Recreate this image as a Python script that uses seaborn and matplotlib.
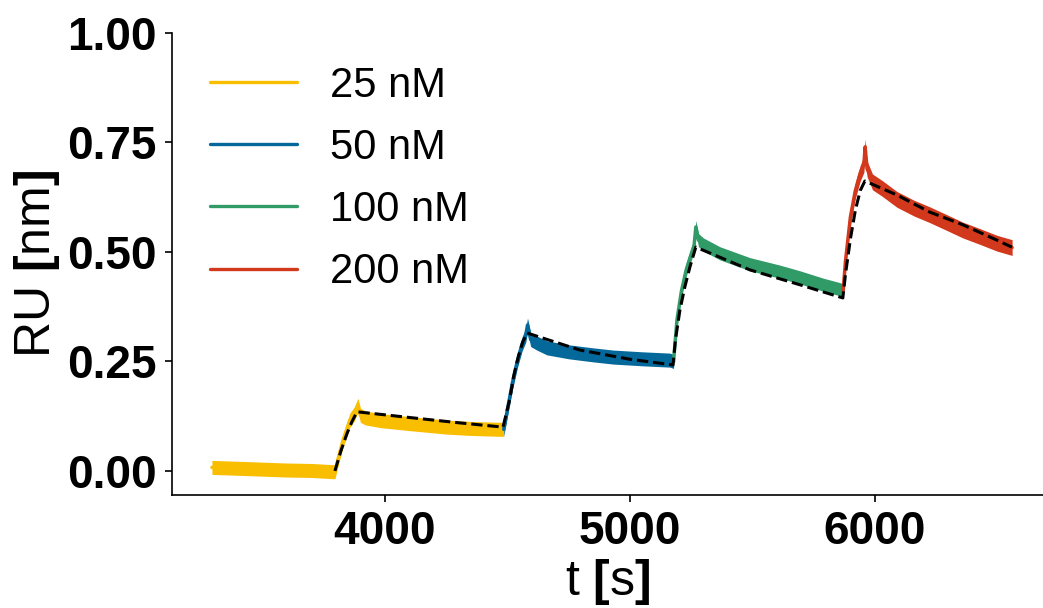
import numpy as np
import pandas as pd
import matplotlib
matplotlib.use("Agg")
import matplotlib.pyplot as plt
import seaborn as sns

# ---------------- data ----------------
labels = ["25 nM", "50 nM", "100 nM", "200 nM"]
colors = ["#F9BE00", "#04689B", "#319B68", "#D2381B"]

t_25 = [3294, 3400, 3500, 3600, 3700, 3796, 3810, 3829, 3845, 3857, 3875, 3890, 3900, 3920, 3980, 4100, 4253, 4350, 4469, 4485]
v_25 = [0.008, 0.006, 0.004, 0.002, 0.001, -0.002, 0.03, 0.07, 0.095, 0.116, 0.13, 0.15, 0.127, 0.121, 0.115, 0.108, 0.100, 0.097, 0.095, 0.095]

t_50 = [4485, 4500, 4520, 4540, 4560, 4575, 4582, 4595, 4620, 4661, 4750, 4850, 4931, 5050, 5163, 5178]
v_50 = [0.095, 0.14, 0.2, 0.25, 0.29, 0.31, 0.333, 0.30, 0.292, 0.281, 0.272, 0.265, 0.26, 0.256, 0.253, 0.25]

t_100 = [5178, 5192, 5210, 5230, 5250, 5262, 5269, 5280, 5300, 5367, 5490, 5612, 5694, 5790, 5857, 5870]
v_100 = [0.25, 0.345, 0.41, 0.46, 0.495, 0.515, 0.557, 0.527, 0.517, 0.497, 0.472, 0.455, 0.442, 0.425, 0.415, 0.412]

t_200 = [5870, 5880, 5900, 5920, 5940, 5955, 5960, 5968, 5990, 6030, 6090, 6160, 6224, 6290, 6359, 6430, 6498, 6560]
v_200 = [0.41, 0.48, 0.58, 0.64, 0.68, 0.70, 0.74, 0.69, 0.66, 0.645, 0.62, 0.60, 0.585, 0.568, 0.55, 0.535, 0.52, 0.51]

# vertical spread of the noisy sensorgram traces (half width, RU)
noise_half = [0.016, 0.016, 0.015, 0.018]

# fitted model (dashed black)
t_fit = [3796, 3820, 3845, 3865, 3886, 4100, 4300, 4482,
         4495, 4510, 4525, 4545, 4563, 4580, 4796, 5000, 5176,
         5186, 5204, 5224, 5245, 5269, 5490, 5694, 5869,
         5880, 5900, 5920, 5940, 5959, 6090, 6224, 6359, 6498, 6559]
v_fit = [0.0, 0.045, 0.085, 0.112, 0.135, 0.122, 0.11, 0.10,
         0.13, 0.165, 0.215, 0.262, 0.295, 0.315, 0.276, 0.255, 0.242,
         0.30, 0.367, 0.42, 0.466, 0.511, 0.459, 0.425, 0.395,
         0.45, 0.53, 0.595, 0.64, 0.662, 0.63, 0.591, 0.562, 0.527, 0.511]

x_ticks = [4000, 5000, 6000]
y_ticks = [0.0, 0.25, 0.5, 0.75, 1.0]

# ---------------- styling ----------------
sns.set_style("ticks")
plt.rcParams["font.family"] = ["Liberation Sans", "DejaVu Sans"]
plt.rcParams["mathtext.fontset"] = "custom"
plt.rcParams["mathtext.rm"] = "Liberation Sans"
plt.rcParams["mathtext.bf"] = "Liberation Sans:bold"
for k in ["text.color", "axes.labelcolor", "xtick.color", "ytick.color", "axes.edgecolor"]:
    plt.rcParams[k] = "black"

W, H = 1043, 608
fig = plt.figure(figsize=(W / 100, H / 100), dpi=100)
ax = fig.add_axes([172 / W, 113 / H, (W - 172) / W, (495 - 33) / H])

series_t = [t_25, t_50, t_100, t_200]
series_v = [v_25, v_50, v_100, v_200]
frames = []
for lab, t, v in zip(labels, series_t, series_v):
    frames.append(pd.DataFrame({"t": t, "RU": v, "conc": lab}))
df = pd.concat(frames, ignore_index=True)

palette = dict(zip(labels, colors))

for lab, t, v, hw, c in zip(labels, series_t, series_v, noise_half, colors):
    v = np.asarray(v)
    ax.fill_between(t, v - hw, v + hw, color=c, lw=0, zorder=1)

sns.lineplot(data=df, x="t", y="RU", hue="conc", hue_order=labels, palette=palette,
             sort=False, estimator=None, lw=2.5, ax=ax, zorder=2)

fit_df = pd.DataFrame({"t": t_fit, "RU": v_fit})
sns.lineplot(data=fit_df, x="t", y="RU", color="black", linestyle="--", lw=2.2,
             sort=False, estimator=None, legend=False, ax=ax, zorder=3)

ax.set_xlim(3131, 6686)
ax.set_ylim(-0.055, 1.0)
ax.set_xticks(x_ticks)
ax.set_yticks(y_ticks)
ax.set_xticklabels([str(x) for x in x_ticks])
ax.set_yticklabels([f"{y:.2f}" for y in y_ticks])
ax.tick_params(axis="both", labelsize=33, length=5, width=1.2, pad=6, colors="black")
for lbl in ax.get_xticklabels() + ax.get_yticklabels():
    lbl.set_fontweight("bold")

ax.set_xlabel("t $\\mathbf{[}$s$\\mathbf{]}$", fontsize=36, labelpad=2)
ax.set_ylabel("RU $\\mathbf{[}$nm$\\mathbf{]}$", fontsize=36, labelpad=4)

sns.despine(ax=ax)
for s in ["left", "bottom"]:
    ax.spines[s].set_linewidth(1.2)
    ax.spines[s].set_color("black")

handles, labs = ax.get_legend_handles_labels()
leg = ax.legend(handles[:4], labs[:4], loc="upper left", bbox_to_anchor=(0.024, 0.965),
                borderaxespad=0, frameon=False, fontsize=30, handlelength=2.1,
                handletextpad=0.8, labelspacing=0.53)
for h in leg.legend_handles:
    h.set_linewidth(2.4)

fig.savefig("out.png", dpi=100)
